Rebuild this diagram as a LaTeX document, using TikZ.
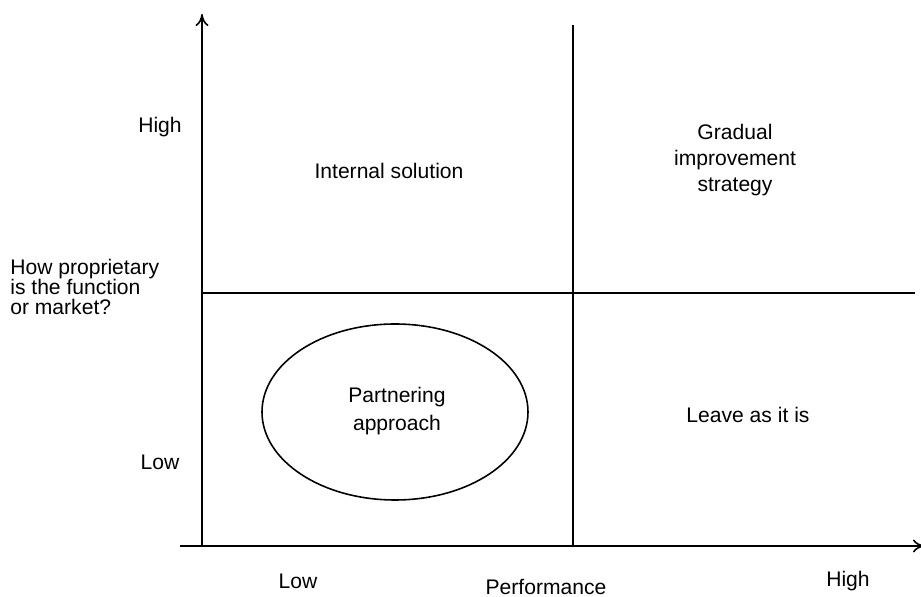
\documentclass[tikz,border=0pt]{standalone}
\usepackage{fontspec}
\setmainfont{Liberation Sans}
\usepackage{tikz}
\usetikzlibrary{arrows.meta,calc,positioning}

\begin{document}
\begin{tikzpicture}[x=0.02cm,y=-0.02cm,
    lbl/.style={font=\fontsize{12pt}{15pt}\selectfont,inner sep=0,align=center},
    axis/.style={line width=0.9pt,-{To[length=2.4mm,width=2.6mm]}}]
        \useasboundingbox (0,0) rectangle (921,597);
        % Draw the axes
        \draw[axis] (202,546) -- (202,14);
        \draw[axis] (180,546) -- (925,546);
        % Split the plane into four quadrants
        \draw[line width=0.9pt] (573,25) -- (573,546);
        \draw[line width=0.9pt] (202,293) -- (915,293);
        % Label the vertical axis
        \node[lbl] (yhigh) at (160,127) {High};
        \node[lbl] (ylow) at (160,462) {Low};
        \node[lbl,align=left,anchor=west,font=\fontsize{12pt}{11.4pt}\selectfont] (ytitle) at (10,287) {How proprietary\\is the function\\or market?};
        % Label the horizontal axis
        \node[lbl] (xlow) at (298,581) {Low};
        \node[lbl] (xtitle) at (546,587) {Performance};
        \node[lbl] (xhigh) at (848,581) {High};
        % Label the quadrants
        \node[lbl] (internal) at (389,171) {Internal solution};
        \node[lbl] (gradual) at (735,160) {Gradual\\improvement\\strategy};
        \node[lbl] (leave) at (748,415) {Leave as it is};
        \draw[line width=0.9pt] (395,412) ellipse [x radius=133, y radius=88];
        \node[lbl,font=\fontsize{12pt}{15.6pt}\selectfont] (partner) at (397,411) {Partnering\\approach};
\end{tikzpicture}
\end{document}
